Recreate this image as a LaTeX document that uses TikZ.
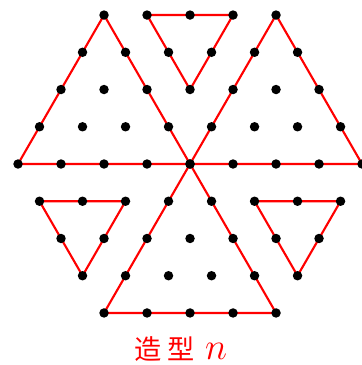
\documentclass[tikz,border=0pt]{standalone}
\usepackage{fontspec}
\newfontfamily\cjk{Noto Sans CJK SC}
\usetikzlibrary{positioning}

\begin{document}
\begin{tikzpicture}[
  dot/.style={circle, fill=black, inner sep=0pt, minimum size=0.22cm},
  edge/.style={red, line width=1.4pt},
  caption/.style={text=red, inner sep=1pt, font=\fontsize{18}{20}\selectfont}
]
\useasboundingbox (-4.419,-4.674) rectangle (3.977,3.814);
% big triangles
\coordinate (c) at (0,0);
\coordinate (lbl) at (-4,0);
\coordinate (ltop) at (-2,3.464);
\coordinate (rbr) at (4,0);
\coordinate (rtop) at (2,3.464);
\coordinate (bbl) at (-2,-3.464);
\coordinate (bbr) at (2,-3.464);
\draw[edge] (lbl) -- (c) -- (ltop) -- cycle;
\draw[edge] (c) -- (rbr) -- (rtop) -- cycle;
\draw[edge] (c) -- (bbr) -- (bbl) -- cycle;
% small triangles
\foreach \px/\py/\nm in {-1/3.464/t, -3.5/-0.866/l, 1.5/-0.866/r} {
  \coordinate (\nm1) at (\px,\py);
  \coordinate (\nm2) at ({\px+2},\py);
  \coordinate (\nm3) at ({\px+1},{\py-1.732});
  \draw[edge] (\nm1) -- (\nm2) -- (\nm3) -- cycle;
  \foreach \k in {0,1,2}
    \node[dot] (\nm-a\k) at ({\px+\k},\py) {};
  \node[dot] (\nm-b0) at ({\px+0.5},{\py-0.866}) {};
  \node[dot] (\nm-b1) at ({\px+1.5},{\py-0.866}) {};
  \node[dot] (\nm-c0) at ({\px+1},{\py-1.732}) {};
}
% lattice dots
\foreach \r [evaluate=\r as \n using int(4-\r)] in {0,...,4} {
  \foreach \k in {0,...,\n} {
    \node[dot] (l-\r-\k) at ({-4+\r/2+\k},{\r*0.866}) {};
    \node[dot] (r-\r-\k) at ({\r/2+\k},{\r*0.866}) {};
  }
}
\foreach \r in {1,...,4} {
  \foreach \k in {0,...,\r}
    \node[dot] (b-\r-\k) at ({-\r/2+\k},{-\r*0.866}) {};
}
\node[caption] (name) at (-0.22,-4.3) {\cjk 造\hspace{4pt}型\hspace{7pt}{\fontsize{23}{25}\selectfont$n$}};
\end{tikzpicture}
\end{document}
